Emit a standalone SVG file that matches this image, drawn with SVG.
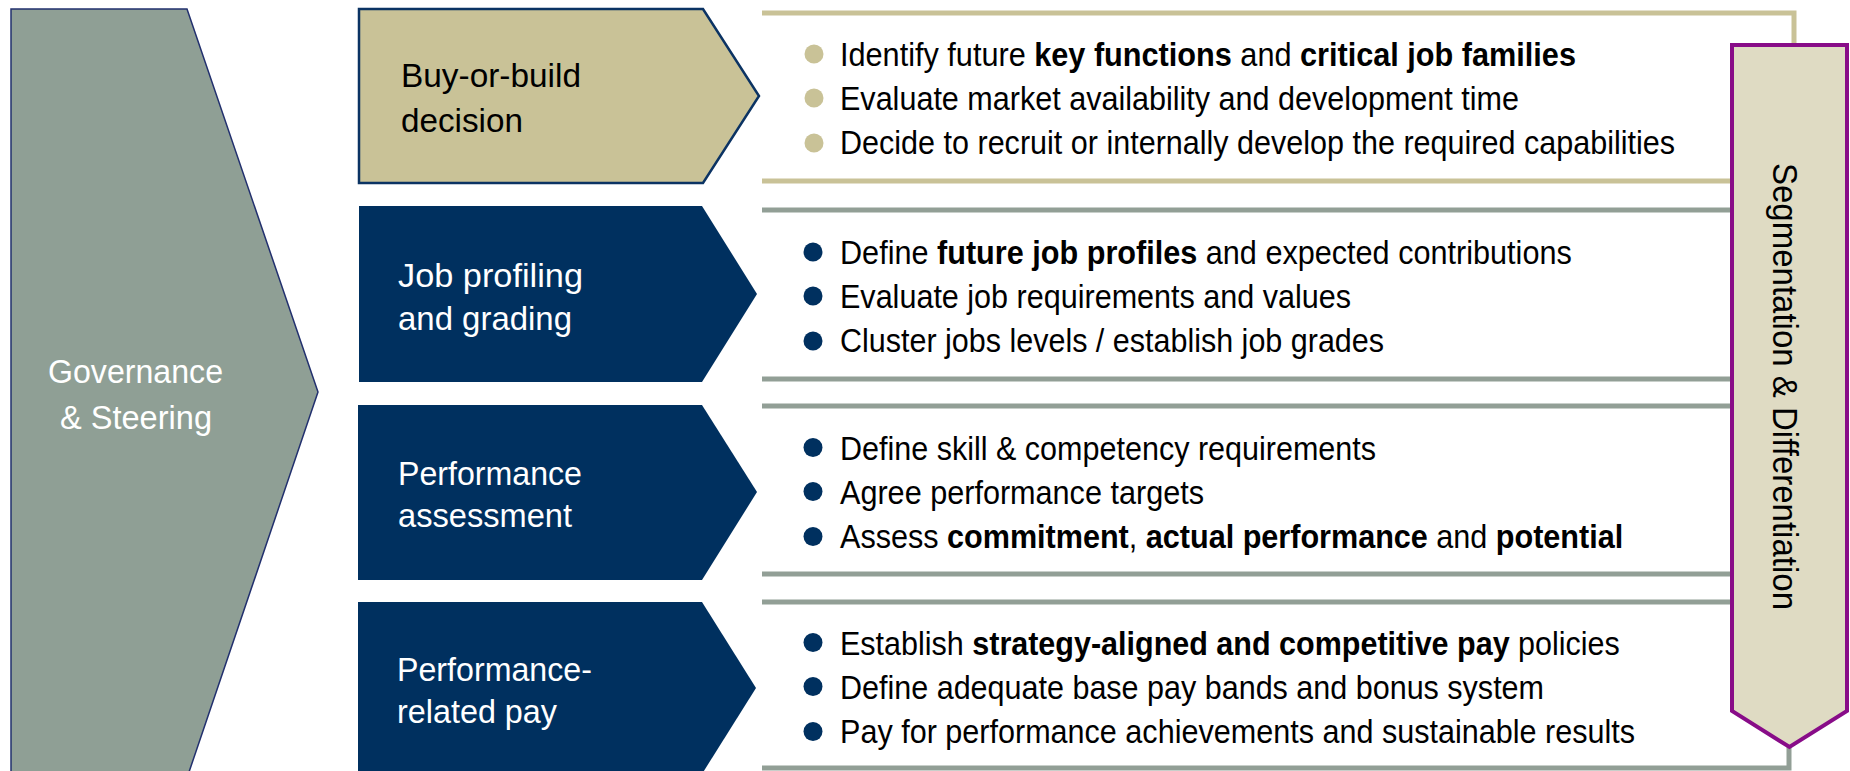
<svg xmlns="http://www.w3.org/2000/svg" width="1850" height="771" viewBox="0 0 1850 771">
<style>
  .lbl { font-family: "Liberation Sans", Arial, sans-serif; font-size: 34px; }
  .wht { fill: #ffffff; }
  .blk { fill: #000000; }
  .bt { font-family: "Liberation Sans", Arial, sans-serif; font-size: 33px; fill: #000000; }
  .b { font-weight: bold; }
  .navy { fill: #00305f; }
  .tan { fill: #c9c297; }
  .tanline { fill: none; stroke: #c9c297; stroke-width: 5; }
  .grayline { fill: none; stroke: #929f96; stroke-width: 5; }
  .dotTan { fill: #c9c297; }
  .dotNavy { fill: #00305f; }
</style>
<rect x="0" y="0" width="1850" height="771" fill="#ffffff"/>

<g id="governance">
  <polygon points="11,9 187,9 318,392 188,775 11,775" fill="#8f9f95" stroke="#22306e" stroke-width="1.5"/>
  <text class="lbl wht" x="48" y="383" textLength="175" lengthAdjust="spacingAndGlyphs">Governance</text>
  <text class="lbl wht" x="60" y="429" textLength="152" lengthAdjust="spacingAndGlyphs">&amp; Steering</text>
</g>

<g id="row-buy-or-build">
  <path class="tanline" d="M762,13 H1794 V181 H762"/>
  <polygon points="359,9 703,9 759,96 703,183 359,183" class="tan" stroke="#0b3363" stroke-width="2.5"/>
  <text class="lbl blk" x="401" y="87" textLength="180" lengthAdjust="spacingAndGlyphs">Buy-or-build</text>
  <text class="lbl blk" x="401" y="132" textLength="122" lengthAdjust="spacingAndGlyphs">decision</text>
  <circle class="dotTan" cx="814" cy="54" r="9.5"/>
  <circle class="dotTan" cx="814" cy="98" r="9.5"/>
  <circle class="dotTan" cx="814" cy="143" r="9.5"/>
  <text class="bt" transform="translate(840,66) scale(0.929,1)">Identify future <tspan class="b">key functions</tspan> and <tspan class="b">critical job families</tspan></text>
  <text class="bt" x="840" y="110" textLength="679" lengthAdjust="spacingAndGlyphs">Evaluate market availability and development time</text>
  <text class="bt" x="840" y="154" textLength="835" lengthAdjust="spacingAndGlyphs">Decide to recruit or internally develop the required capabilities</text>
</g>

<g id="row-job-profiling">
  <path class="grayline" d="M762,210 H1792 V379 H762"/>
  <polygon points="359,206 702,206 757,294 702,382 359,382" class="navy"/>
  <text class="lbl wht" x="398" y="287" textLength="185" lengthAdjust="spacingAndGlyphs">Job profiling</text>
  <text class="lbl wht" x="398" y="330" textLength="174" lengthAdjust="spacingAndGlyphs">and grading</text>
  <circle class="dotNavy" cx="813" cy="252" r="9.5"/>
  <circle class="dotNavy" cx="813" cy="296" r="9.5"/>
  <circle class="dotNavy" cx="813" cy="341" r="9.5"/>
  <text class="bt" transform="translate(840,264) scale(0.928,1)">Define <tspan class="b">future job profiles</tspan> and expected contributions</text>
  <text class="bt" x="840" y="308" textLength="511" lengthAdjust="spacingAndGlyphs">Evaluate job requirements and values</text>
  <text class="bt" x="840" y="352" textLength="544" lengthAdjust="spacingAndGlyphs">Cluster jobs levels / establish job grades</text>
</g>

<g id="row-performance-assessment">
  <path class="grayline" d="M762,406 H1791 V574 H762"/>
  <polygon points="358,405 702,405 757,492 702,580 358,580" class="navy"/>
  <text class="lbl wht" x="398" y="485" textLength="184" lengthAdjust="spacingAndGlyphs">Performance</text>
  <text class="lbl wht" x="398" y="527" textLength="174" lengthAdjust="spacingAndGlyphs">assessment</text>
  <circle class="dotNavy" cx="813" cy="447.5" r="9.5"/>
  <circle class="dotNavy" cx="813" cy="491.5" r="9.5"/>
  <circle class="dotNavy" cx="813" cy="536.5" r="9.5"/>
  <text class="bt" x="840" y="459.5" textLength="536" lengthAdjust="spacingAndGlyphs">Define skill &amp; competency requirements</text>
  <text class="bt" x="840" y="503.5" textLength="364" lengthAdjust="spacingAndGlyphs">Agree performance targets</text>
  <text class="bt" transform="translate(840,547.5) scale(0.927,1)">Assess <tspan class="b">commitment</tspan>, <tspan class="b">actual performance</tspan> and <tspan class="b">potential</tspan></text>
</g>

<g id="row-performance-pay">
  <path class="grayline" d="M762,602 H1789 V768 H762"/>
  <polygon points="358,602 702,602 756,688 702,774 358,774" class="navy"/>
  <text class="lbl wht" x="397" y="681" textLength="195" lengthAdjust="spacingAndGlyphs">Performance-</text>
  <text class="lbl wht" x="397" y="723" textLength="160" lengthAdjust="spacingAndGlyphs">related pay</text>
  <circle class="dotNavy" cx="813" cy="642.5" r="9.5"/>
  <circle class="dotNavy" cx="813" cy="686.5" r="9.5"/>
  <circle class="dotNavy" cx="813" cy="731.5" r="9.5"/>
  <text class="bt" transform="translate(840,654.5) scale(0.925,1)">Establish <tspan class="b">strategy-aligned and competitive pay</tspan> policies</text>
  <text class="bt" x="840" y="698.5" textLength="704" lengthAdjust="spacingAndGlyphs">Define adequate base pay bands and bonus system</text>
  <text class="bt" x="840" y="742.5" textLength="795" lengthAdjust="spacingAndGlyphs">Pay for performance achievements and sustainable results</text>
</g>

<g id="segmentation">
  <polygon points="1732,45 1847,45 1847,711 1789.5,747 1732,711" fill="#dfdbc3" stroke="#880c88" stroke-width="4"/>
  <text class="blk" x="1773" y="386.5" text-anchor="middle" transform="rotate(90 1773 386.5)" font-family="'Liberation Sans', Arial, sans-serif" font-size="35" textLength="447" lengthAdjust="spacingAndGlyphs">Segmentation &amp; Differentiation</text>
</g>

<g id="connectors"></g>
</svg>
